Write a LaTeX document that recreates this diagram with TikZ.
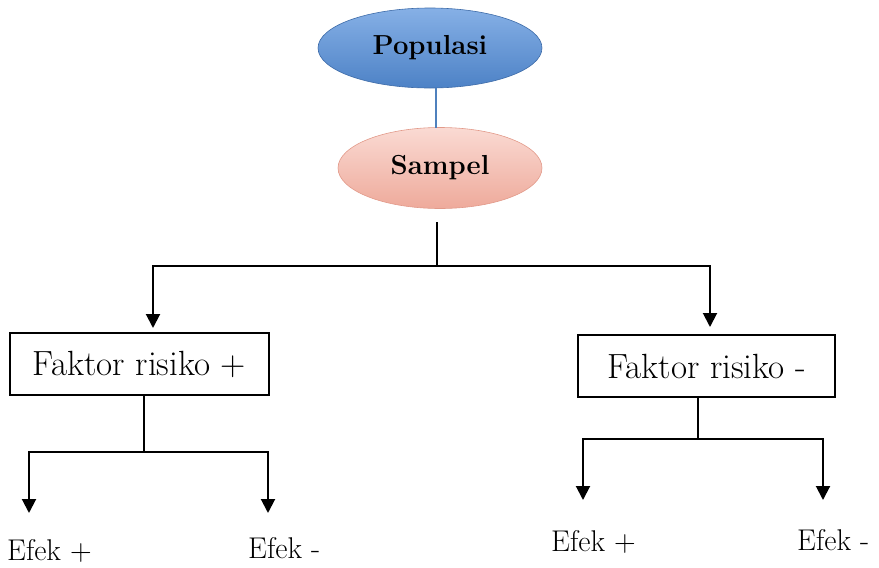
\documentclass[tikz,border=0pt]{standalone}
\usepackage{fontspec}
\usetikzlibrary{shapes.geometric,arrows.meta}
\definecolor{popA}{HTML}{86B0E6}
\definecolor{popB}{HTML}{4D82C6}
\definecolor{popD}{HTML}{3D6BA8}
\definecolor{samA}{HTML}{FADAD3}
\definecolor{samB}{HTML}{EEAA9B}
\definecolor{samD}{HTML}{E29A8A}
\definecolor{linkblue}{HTML}{4F81BD}
\tikzset{
  ovalnode/.style={ellipse, inner sep=0pt, font=\fontsize{27.5}{32}\selectfont\bfseries},
  factorbox/.style={draw=black, line width=2pt, inner sep=0pt, font=\fontsize{35}{40}\selectfont},
  effecttext/.style={inner sep=0pt, font=\fontsize{30}{34}\selectfont},
  link/.style={draw=black, line width=2pt},
  arrowlink/.style={link, -{Triangle[width=14pt,length=14pt]}},
}
\begin{document}
\begin{tikzpicture}[x=1pt, y=-1pt]
\useasboundingbox (0,0) rectangle (879,568);
\node[ovalnode, minimum width=224pt, minimum height=80pt, top color=popA, bottom color=popB, draw=popD, line width=0.6pt] (pop) at (430,48) {Populasi};
\node[ovalnode, minimum width=204pt, minimum height=81pt, top color=samA, bottom color=samB, draw=samD, line width=0.6pt] (sam) at (440,168) {Sampel};
\draw[draw=linkblue, line width=2pt] (pop.south -| 436,0) -- (436,128);

\coordinate (s0) at (437,222);
\coordinate (s1) at (437,266);
\coordinate (sl) at (153,266);
\coordinate (sr) at (710,266);

\node[factorbox, minimum width=259pt, minimum height=62pt] (fp) at (139.5,364) {Faktor risiko +};
\node[factorbox, minimum width=257pt, minimum height=62pt] (fm) at (706.5,366) {Faktor risiko -};

\draw[link] (s0) -- (s1);
\draw[link, line cap=rect] (sl) -- (sr);
\draw[arrowlink] (sl) -- (153,328);
\draw[arrowlink] (sr) -- (710,327);

\coordinate (a1) at (144,452);
\coordinate (al) at (29,452);
\coordinate (ar) at (268,452);
\draw[link] (fp.south -| a1) -- (a1);
\draw[link, line cap=rect] (al) -- (ar);
\draw[arrowlink] (al) -- (29,513);
\draw[arrowlink] (ar) -- (268,513);

\coordinate (b1) at (698,439);
\coordinate (bl) at (583,439);
\coordinate (br) at (823,439);
\draw[link] (fm.south -| b1) -- (b1);
\draw[link, line cap=rect] (bl) -- (br);
\draw[arrowlink] (bl) -- (583,500);
\draw[arrowlink] (br) -- (823,500);

\node[effecttext, anchor=west] (e1) at (7,551) {Efek +};
\node[effecttext, anchor=west] (e2) at (248,548) {Efek -};
\node[effecttext, anchor=west] (e3) at (551,542) {Efek +};
\node[effecttext, anchor=west] (e4) at (797,540) {Efek -};
\end{tikzpicture}
\end{document}
